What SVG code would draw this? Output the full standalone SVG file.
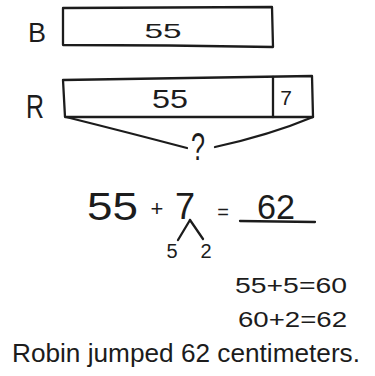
<svg xmlns="http://www.w3.org/2000/svg" width="375" height="376" viewBox="0 0 375 376">
<style>
.ln{fill:none;stroke:#1c1c1c;stroke-width:2.3;stroke-linecap:round;stroke-linejoin:round}
.t{font-family:"Liberation Sans","DejaVu Sans",sans-serif;fill:#1c1c1c}
</style>
<rect width="375" height="376" fill="#fff"/>
<g id="barB">
<path class="ln" d="M63,8 L272,7 L273,47 Q170,45 63,45 Z"/>
<text class="t" x="37" y="42" font-size="27" text-anchor="middle">B</text>
<text class="t" x="163" y="38" font-size="21" text-anchor="middle" textLength="37" lengthAdjust="spacingAndGlyphs">55</text>
</g>
<g id="barR">
<path class="ln" d="M63,80 L312,76 L313,117 L65,117 Z"/>
<path class="ln" d="M273,77 L273,117"/>
<text class="t" x="35" y="118" font-size="34" text-anchor="middle" textLength="18" lengthAdjust="spacingAndGlyphs">R</text>
<text class="t" x="170" y="108" font-size="25" text-anchor="middle" textLength="36" lengthAdjust="spacingAndGlyphs">55</text>
<text class="t" x="286" y="105" font-size="21" text-anchor="middle">7</text>
</g>
<g id="connectors">
<path class="ln" d="M66,117 Q130,133 187,148"/>
<path class="ln" d="M215,147 Q270,135 313,117"/>
<path class="ln" d="M190,220 L178,240"/>
<path class="ln" d="M190,220 L203,239"/>
<path class="ln" d="M240,221 L315,222"/>
</g>
<g id="question">
<text class="t" x="198" y="160" font-size="38" text-anchor="middle" textLength="14" lengthAdjust="spacingAndGlyphs">?</text>
</g>
<g id="equation">
<text class="t" x="87" y="220" font-size="39" textLength="51" lengthAdjust="spacingAndGlyphs">55</text>
<text class="t" x="157" y="216" font-size="22" text-anchor="middle">+</text>
<text class="t" x="185" y="219" font-size="36" text-anchor="middle">7</text>
<text class="t" x="223" y="219" font-size="20" text-anchor="middle">=</text>
<text class="t" x="257" y="219" font-size="35" textLength="38" lengthAdjust="spacingAndGlyphs">62</text>
</g>
<g id="split">
<text class="t" x="172" y="258" font-size="20" text-anchor="middle">5</text>
<text class="t" x="206" y="258" font-size="20" text-anchor="middle">2</text>
</g>
<g id="steps">
<text class="t" x="235" y="293" font-size="22" textLength="112" lengthAdjust="spacingAndGlyphs">55+5=60</text>
<text class="t" x="238" y="327" font-size="22" textLength="109" lengthAdjust="spacingAndGlyphs">60+2=62</text>
</g>
<g id="answer">
<text class="t" x="12" y="362" font-size="25" textLength="348" lengthAdjust="spacingAndGlyphs">Robin jumped 62 centimeters.</text>
</g>
</svg>
